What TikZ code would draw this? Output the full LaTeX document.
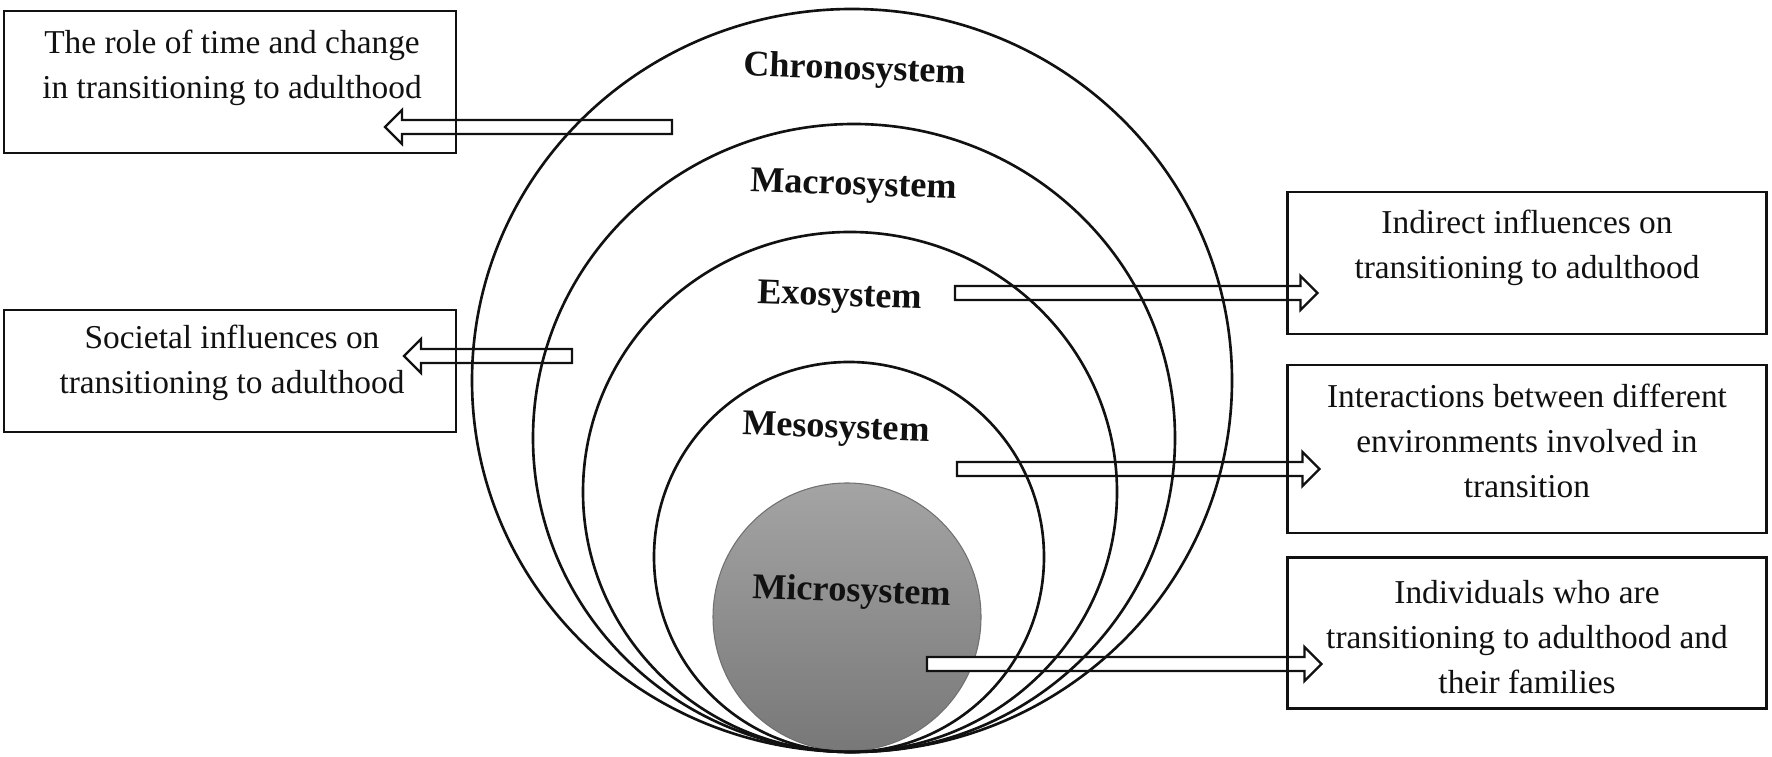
\documentclass[tikz,border=0pt]{standalone}
\usepackage{fontspec}
\setmainfont{Liberation Serif}
\usetikzlibrary{calc,positioning,backgrounds}
\definecolor{ink}{HTML}{111111}
\definecolor{microtop}{HTML}{A4A4A4}
\definecolor{microbot}{HTML}{787878}
\newcommand{\boxsize}{\fontsize{9.5}{12.8}\selectfont}
\newcommand{\syssize}{\fontsize{10.3}{12}\selectfont}
\tikzset{
 every node/.append style={text=ink},
 infobox/.style={draw=ink,line width=.6pt,inner sep=0pt},
 boxtext/.style={font=\boxsize,align=center,inner sep=1pt},
 system/.style={draw=ink,line width=.75pt},
 syslabel/.style={font=\syssize\bfseries,inner sep=1pt,rotate=-2},
 blockarrow/.style={draw=ink,fill=white,line width=.65pt,line join=miter,
  to path={let \p1=(\tikztostart),\p2=(\tikztotarget),\n1={(\x2>\x1)*2-1} in
   (\x1,{\y1+.07cm}) -- ({\x2-\n1*.17cm},{\y1+.07cm}) -- ({\x2-\n1*.17cm},{\y1+.17cm})
   -- (\x2,\y1) -- ({\x2-\n1*.17cm},{\y1-.17cm}) -- ({\x2-\n1*.17cm},{\y1-.07cm})
   -- (\x1,{\y1-.07cm}) -- cycle}},
}

\begin{document}
\begin{tikzpicture}

\useasboundingbox (0,0) rectangle (17.72,-7.57);
% boxes on the left and right
\node[infobox,minimum width=4.52cm,minimum height=1.42cm] (timebox) at (2.30,-0.82) {};
\node[boxtext] (timetext) at (2.32,-0.68) {The role of time and change\\in transitioning to adulthood};
\node[infobox,minimum width=4.52cm,minimum height=1.22cm] (societybox) at (2.30,-3.71) {};
\node[boxtext] (societytext) at (2.32,-3.63) {Societal influences on\\transitioning to adulthood};
\node[infobox,minimum width=4.79cm,minimum height=1.42cm] (indirectbox) at (15.27,-2.63) {};
\node[boxtext] (indirecttext) at (15.27,-2.48) {Indirect influences on\\transitioning to adulthood};
\node[infobox,minimum width=4.79cm,minimum height=1.68cm] (interactbox) at (15.27,-4.49) {};
\node[boxtext] (interacttext) at (15.27,-4.41) {Interactions between different\\environments involved in\\transition};
\node[infobox,minimum width=4.79cm,minimum height=1.51cm] (individbox) at (15.27,-6.33) {};
\node[boxtext] (individtext) at (15.27,-6.37) {Individuals who are\\transitioning to adulthood and\\their families};

% nested systems, all touching at the bottom
\draw[system] (8.52,-3.805) ellipse (3.80 and 3.715);
\draw[system] (8.54,-4.38) ellipse (3.21 and 3.14);
\draw[system] (8.50,-4.92) ellipse (2.67 and 2.60);
\draw[system] (8.49,-5.57) ellipse (1.95 and 1.95);
\node[syslabel] (chrono) at (8.55,-0.71) {Chronosystem};
\node[syslabel] (macro) at (8.54,-1.87) {Macrosystem};
\node[syslabel] (exo) at (8.40,-2.98) {Exosystem};
\node[syslabel] (meso) at (8.36,-4.30) {Mesosystem};
\node[syslabel] (micro) at (8.52,-5.93) {Microsystem};

\coordinate (chrotail) at (6.72,-1.27);
\coordinate (macrotail) at (5.72,-3.56);
\coordinate (exotail) at (9.55,-2.93);
\coordinate (mesotail) at (9.57,-4.69);
\coordinate (microtail) at (9.27,-6.64);

\begin{scope}[on background layer]
\shade[top color=microtop,bottom color=microbot,draw=ink!60,line width=.3pt] (8.47,-6.17) circle (1.34);
\draw[blockarrow] (chrotail) to ([xshift=-.72cm]timebox.east);
\draw[blockarrow] (macrotail) to ([xshift=-.53cm]societybox.east);
\draw[blockarrow] (exotail) to ([xshift=.31cm]indirectbox.west);
\draw[blockarrow] (mesotail) to ([xshift=.33cm]interactbox.west);
\draw[blockarrow] (microtail) to ([xshift=.35cm]individbox.west);
\end{scope}
\end{tikzpicture}
\end{document}
